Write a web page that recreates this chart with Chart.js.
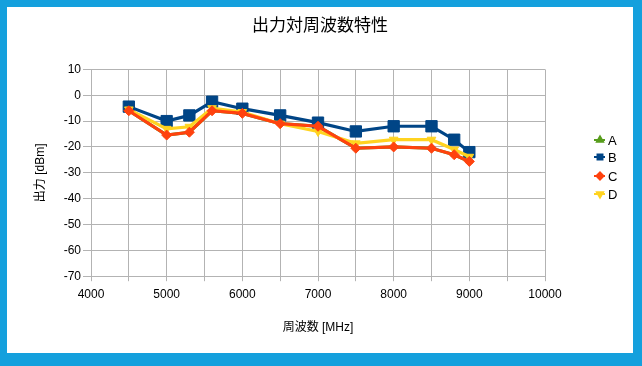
<!DOCTYPE html>
<html>
<head>
<meta charset="utf-8">
<script src="https://cdn.jsdelivr.net/npm/chart.js@4/dist/chart.umd.min.js"></script>
<style>
  html, body { margin: 0; padding: 0; }
  body { width: 642px; height: 366px; background: #14a0dd; position: relative; overflow: hidden; }
  #box { position: absolute; left: 7px; top: 7px; width: 626px; height: 346px; background: #fff; }
</style>
</head>
<body>
<div id="box"><canvas id="chart" width="626" height="346"></canvas></div>
<script>
const freqs = [4500, 5000, 5300, 5600, 6000, 6500, 7000, 7500, 8000, 8500, 8800, 9000];
const seriesA = [-6, -15.4, -14.3, -6, -7, -11, -12, -20.5, -20, -20.5, -23, -25.6];
const seriesB = [-4.4, -10, -7.8, -2.5, -5.2, -7.8, -10.6, -14, -12, -12, -17.2, -22];
const seriesC = [-6, -15.4, -14.3, -6, -7, -11, -12, -20.5, -20, -20.5, -23, -25.6];
const seriesD = [-5.5, -13, -12.2, -5, -6.5, -11, -14, -18.6, -17.2, -17.2, -21, -23.8];
const yTicks = [10, 0, -10, -20, -30, -40, -50, -60, -70];

const FONT = '"Liberation Sans", "Noto Sans CJK JP", sans-serif';
const GRID = '#b3b3b3';

function pts(ys) {
    return freqs.map((x, i) => ({ x: x, y: ys[i] }));
}

function series(label, ys, color, style, radius, rotation, order) {
    return {
        label: label,
        data: pts(ys),
        borderColor: color,
        backgroundColor: color,
        borderWidth: 3.2,
        pointStyle: style,
        pointRadius: radius,
        pointRotation: rotation,
        pointBorderWidth: 1,
        pointBorderColor: color,
        pointBackgroundColor: color,
        order: order
    };
}

// legend drawn by hand: short line with the marker on it, like the original
const sideLegend = {
    id: 'sideLegend',
    afterDraw(chart) {
        const ctx = chart.ctx;
        const rows = [133, 150, 169, 187];
        ctx.save();
        chart.data.datasets.forEach((ds, i) => {
            const y = rows[i];
            ctx.strokeStyle = ds.borderColor;
            ctx.fillStyle = ds.borderColor;
            ctx.lineWidth = 2;
            ctx.beginPath();
            ctx.moveTo(587, y);
            ctx.lineTo(598, y);
            ctx.stroke();
            Chart.helpers.drawPoint(ctx, {
                pointStyle: ds.pointStyle,
                rotation: ds.pointRotation,
                radius: 3.5,
                borderWidth: 1
            }, 593, y);
            ctx.fillStyle = '#000';
            ctx.font = '13px ' + FONT;
            ctx.textAlign = 'left';
            ctx.textBaseline = 'middle';
            ctx.fillText(ds.label, 601, y + 1);
        });
        ctx.restore();
    }
};

new Chart(document.getElementById('chart'), {
    type: 'line',
    data: {
        datasets: [
            series('A', seriesA, '#579d1c', 'triangle', 3.5, 0, 4),
            series('B', seriesB, '#004586', 'rect', 8, 0, 3),
            series('C', seriesC, '#ff420e', 'rectRot', 5, 0, 1),
            series('D', seriesD, '#ffd320', 'triangle', 5, 180, 2)
        ]
    },
    options: {
        responsive: false,
        animation: false,
        layout: { padding: { left: 0, right: 0, top: 0, bottom: 18 } },
        plugins: {
            legend: { display: false },
            tooltip: { enabled: false },
            title: {
                display: true,
                text: '出力対周波数特性',
                color: '#000',
                font: { family: FONT, size: 17, weight: 'normal' },
                padding: { top: 9, bottom: 33 }
            }
        },
        scales: {
            x: {
                type: 'linear',
                min: 4000,
                max: 10000,
                grid: { color: GRID, tickLength: 5 },
                border: { color: GRID },
                ticks: {
                    stepSize: 500,
                    padding: 6,
                    maxRotation: 0,
                    autoSkip: false,
                    color: '#000',
                    font: { family: FONT, size: 12 },
                    callback: v => (v % 1000 === 0 ? String(v) : '')
                },
                title: {
                    display: true,
                    text: '周波数 [MHz]',
                    color: '#000',
                    font: { family: FONT, size: 12 },
                    padding: { top: 13, bottom: 0 }
                }
            },
            y: {
                min: -70,
                max: 10,
                afterFit(scale) { scale.width = 84; },
                afterBuildTicks(scale) { scale.ticks = yTicks.map(v => ({ value: v })); },
                grid: { color: GRID, tickLength: 8 },
                border: { color: GRID },
                ticks: {
                    padding: 2,
                    color: '#000',
                    font: { family: FONT, size: 12 },
                    callback: v => String(v)
                },
                title: {
                    display: true,
                    text: '出力 [dBm]',
                    color: '#000',
                    font: { family: FONT, size: 12 },
                    padding: { top: 26, bottom: 0 }
                }
            },
            // empty right-hand strip that leaves room for the legend
            side: {
                type: 'linear',
                position: 'right',
                min: 0,
                max: 1,
                afterFit(scale) { scale.width = 88; },
                grid: { display: false, drawTicks: false },
                border: { display: false },
                ticks: { display: false }
            }
        }
    },
    plugins: [sideLegend]
});
</script>
</body>
</html>
